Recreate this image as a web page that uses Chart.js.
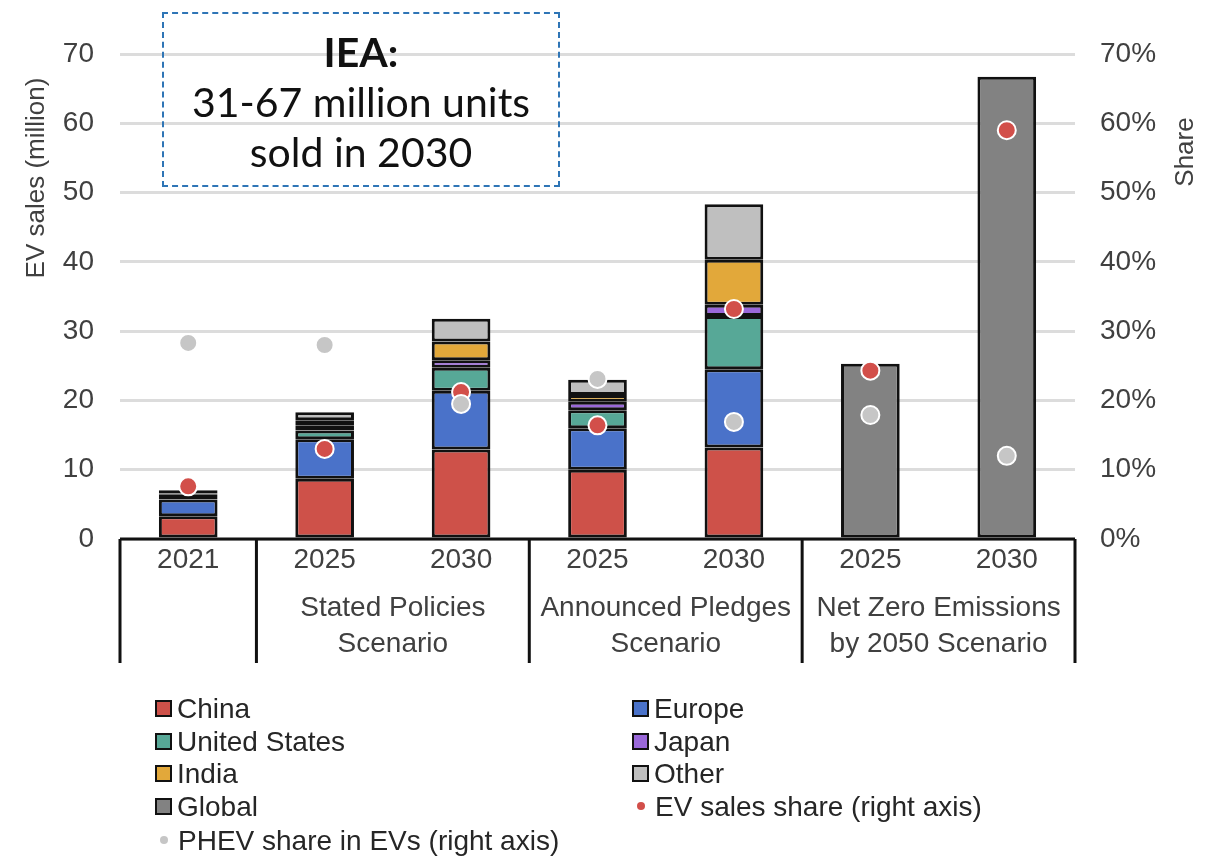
<!DOCTYPE html>
<html>
<head>
<meta charset="utf-8">
<script src="https://cdn.jsdelivr.net/npm/chart.js@4"></script>
<style>
  html, body { margin: 0; padding: 0; background: #fff; }
  #wrap { position: relative; width: 1225px; height: 857px; }
  #chart { position: absolute; left: 0; top: 0; }
  #note {
    position: absolute; left: 162px; top: 12px; width: 398px; height: 175px;
    border: 2px dashed #2E75B6; text-align: center; box-sizing: border-box;
    font-family: Lato, 'Noto Sans', sans-serif; font-size: 41px; line-height: 50px;
    color: #111; padding-top: 13px;
  }
  #note div:first-child { font-weight: bold; }
  #legend { position: absolute; left: 0; top: 0; font-family: 'Liberation Sans', Arial, sans-serif; font-size: 28px; color: #262626; }
  .item { position: absolute; height: 33px; line-height: 33px; white-space: nowrap; }
  .box { display: inline-block; width: 13px; height: 13px; border: 2.5px solid #111; margin-right: 5px; vertical-align: 1px; }
  .dot { display: inline-block; width: 8px; height: 8px; border-radius: 50%; margin: 0 10px 0 5px; vertical-align: 6px; }
</style>
</head>
<body>
<div id="wrap">
  <canvas id="chart" width="1225" height="857"></canvas>
  <div id="note"></div>
  <div id="legend"></div>
</div>
<script>
// Categories (year) and scenario groups
const years = ['2021', '2025', '2030', '2025', '2030', '2025', '2030'];
const groupNames = [[], ['Stated Policies', 'Scenario'], ['Announced Pledges', 'Scenario'], ['Net Zero Emissions', 'by 2050 Scenario']];
const groupFirst = [0, 1, 3, 5];
const groupLast = [0, 2, 4, 6];

// EV sales (million)
const china = [3.3, 8.7, 12.9, 10.0, 13.2, null, null];
const europe = [2.4, 5.7, 8.5, 6.0, 11.3, null, null];
const unitedStates = [0.7, 1.25, 3.3, 2.6, 7.7, null, null];
const japan = [0.1, 0.7, 1.1, 1.2, 1.6, null, null];
const india = [0.05, 0.8, 2.7, 1.0, 6.5, null, null];
const other = [0.5, 1.15, 3.3, 2.2, 8.0, null, null];
const globalSales = [null, null, null, null, null, 25.3, 66.7];

// shares (%), right axis
const evShare = [7.6, 13, 21.2, 16.4, 33.2, 24.3, 59];
const phevShare = [28.3, 28, 19.5, 23.1, 16.9, 17.9, 12];

const leftTicks = [0, 10, 20, 30, 40, 50, 60, 70];
const noteLines = ['IEA:', '31-67 million units', 'sold in 2030'];

const font = "'Liberation Sans', Arial, sans-serif";
const textColor = '#404040';

function barSet(label, data, color) {
  return {
    type: 'bar', label: label, data: data, backgroundColor: color,
    borderColor: '#111', borderWidth: 3, borderSkipped: false,
    yAxisID: 'y', stack: 'ev', order: 3
  };
}
function dotSet(label, data, color, order) {
  return {
    type: 'line', label: label, data: data, showLine: false,
    pointRadius: 9, pointHoverRadius: 9, pointBackgroundColor: color,
    pointBorderColor: '#fff', pointBorderWidth: 2, yAxisID: 'y1', order: order
  };
}

const datasets = [
  barSet('China', china, '#CE5149'),
  barSet('Europe', europe, '#4A72C9'),
  barSet('United States', unitedStates, '#57A897'),
  barSet('Japan', japan, '#9A68DA'),
  barSet('India', india, '#E2A83A'),
  barSet('Other', other, '#BFBFBF'),
  barSet('Global', globalSales, '#828282'),
  dotSet('EV sales share (right axis)', evShare, '#D24F4A', 2),
  dotSet('PHEV share in EVs (right axis)', phevShare, '#C6C6C6', 1)
];

// group separators, group names and axis titles
const groupPlugin = {
  id: 'groupPlugin',
  afterDraw(chart) {
    const ctx = chart.ctx;
    const area = chart.chartArea;
    const x = chart.scales.x;
    const step = x.getPixelForValue(1) - x.getPixelForValue(0);
    ctx.save();
    ctx.strokeStyle = '#111';
    ctx.lineWidth = 3;
    ctx.beginPath();
    ctx.moveTo(area.left, area.bottom);
    ctx.lineTo(area.right, area.bottom);
    for (let g = 0; g < groupFirst.length; g++) {
      const lx = x.getPixelForValue(groupFirst[g]) - step / 2;
      ctx.moveTo(lx, area.bottom);
      ctx.lineTo(lx, area.bottom + 124);
    }
    ctx.moveTo(area.right, area.bottom);
    ctx.lineTo(area.right, area.bottom + 124);
    ctx.stroke();

    ctx.fillStyle = textColor;
    ctx.font = '28px ' + font;
    ctx.textAlign = 'center';
    ctx.textBaseline = 'middle';
    for (let g = 0; g < groupNames.length; g++) {
      const cx = (x.getPixelForValue(groupFirst[g]) + x.getPixelForValue(groupLast[g])) / 2;
      groupNames[g].forEach((line, i) => ctx.fillText(line, cx, area.bottom + 69 + i * 36));
    }

    // axis titles
    ctx.font = '26px ' + font;
    ctx.translate(37, 178);
    ctx.rotate(-Math.PI / 2);
    ctx.fillText('EV sales (million)', 0, 0);
    ctx.setTransform(1, 0, 0, 1, 0, 0);
    ctx.translate(1186, 152);
    ctx.rotate(-Math.PI / 2);
    ctx.fillText('Share', 0, 0);
    ctx.restore();
  }
};

const chart = new Chart(document.getElementById('chart'), {
  data: { labels: years, datasets: datasets },
  options: {
    responsive: false,
    animation: false,
    layout: { padding: { top: 54, left: 0, right: 0, bottom: 0 } },
    plugins: { legend: { display: false }, tooltip: { enabled: false } },
    datasets: { bar: { barPercentage: 0.43, categoryPercentage: 1 } },
    scales: {
      x: {
        stacked: true,
        grid: { display: false, drawTicks: false },
        border: { display: false },
        ticks: { color: textColor, font: { family: font, size: 28 }, padding: 4, maxRotation: 0 },
        afterFit: s => { s.height = 318; }
      },
      y: {
        stacked: true, min: 0, max: 70,
        afterBuildTicks: s => { s.ticks = leftTicks.map(v => ({ value: v })); },
        grid: { color: '#DCDCDC', lineWidth: 3, drawTicks: false },
        border: { display: false },
        ticks: { color: textColor, font: { family: font, size: 28 }, padding: 26 },
        afterFit: s => { s.width = 120; }
      },
      y1: {
        position: 'right', min: 0, max: 70,
        afterBuildTicks: s => { s.ticks = leftTicks.map(v => ({ value: v })); },
        grid: { display: false, drawTicks: false },
        border: { display: false },
        ticks: { color: textColor, font: { family: font, size: 28 }, padding: 25, callback: v => v + '%' },
        afterFit: s => { s.width = 150; }
      }
    }
  },
  plugins: [groupPlugin]
});

// annotation box
document.getElementById('note').innerHTML = noteLines.map(t => '<div>' + t + '</div>').join('');

// legend in two columns, built from the datasets
const legend = document.getElementById('legend');
const legendCols = [155, 632];
const legendRows = [692, 725, 757, 790, 824];
datasets.forEach((ds, i) => {
  const item = document.createElement('div');
  item.className = 'item';
  item.style.left = legendCols[i % 2] + 'px';
  item.style.top = legendRows[Math.floor(i / 2)] + 'px';
  if (ds.type === 'bar') {
    item.innerHTML = '<span class="box" style="background:' + ds.backgroundColor + '"></span>' + ds.label;
  } else {
    item.innerHTML = '<span class="dot" style="background:' + ds.pointBackgroundColor + '"></span>' + ds.label;
  }
  legend.appendChild(item);
});
</script>
</body>
</html>
